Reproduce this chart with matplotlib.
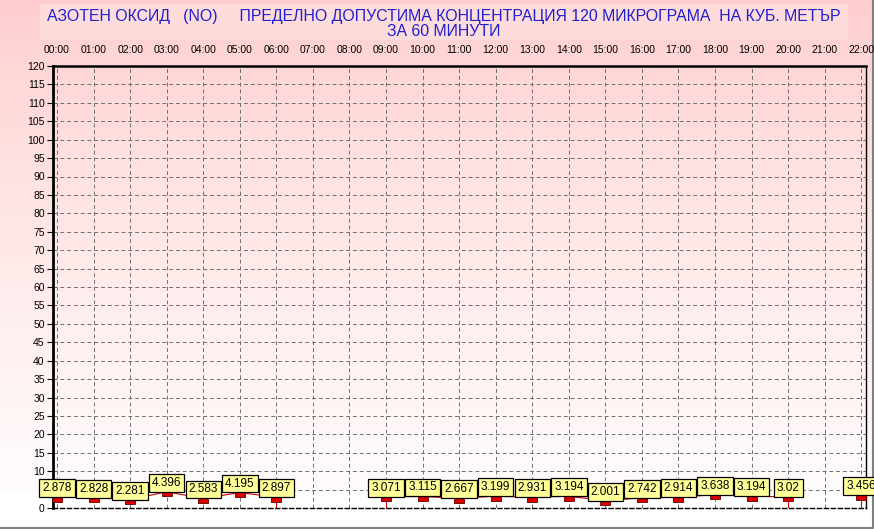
import numpy as np
import matplotlib.pyplot as plt
from matplotlib.patches import Rectangle

# hourly values (NaN where no measurement)
hours = list(range(23))
hour_labels = ['%02d:00' % h for h in hours]
values = [2.878, 2.828, 2.281, 4.396, 2.583, 4.195, 2.897, np.nan, np.nan,
          3.071, 3.115, 2.667, 3.199, 2.931, 3.194, 2.001, 2.742, 2.914,
          3.638, 3.194, 3.02, np.nan, 3.456]
label_texts = ['2.878', '2.828', '2.281', '4.396', '2.583', '4.195', '2.897', '', '',
               '3.071', '3.115', '2.667', '3.199', '2.931', '3.194', '2.001', '2.742', '2.914',
               '3.638', '3.194', '3.02', '', '3.456']
y_ticks = list(range(0, 121, 5))

title_line1 = 'АЗОТЕН ОКСИД   (NO)     ПРЕДЕЛНО ДОПУСТИМА КОНЦЕНТРАЦИЯ 120 МИКРОГРАМА  НА КУБ. МЕТЪР'
title_line2 = 'ЗА 60 МИНУТИ'

plt.rcParams['font.family'] = ['Liberation Sans', 'DejaVu Sans']

W, H = 874, 529
fig = plt.figure(figsize=(W / 100, H / 100), dpi=100)

# background gradient, pink at the top fading to white
bg = fig.add_axes([0, 0, 1, 1], zorder=-10)
grad = np.linspace(0, 1, 256)[:, None] ** 0.8
top_col = np.array([255, 205, 205]) / 255
bot_col = np.array([255, 255, 255]) / 255
img = top_col[None, None, :] * (1 - grad[:, :, None]) + bot_col[None, None, :] * grad[:, :, None]
img[int(256 * 0.93):] = 1.0
bg.imshow(img, aspect='auto', extent=[0, 1, 0, 1])
bg.set_xlim(0, 1)
bg.set_ylim(0, 1)
bg.axis('off')
# outer gray frame (right and bottom)
bg.plot([0, 1 - 1.5 / W, 1 - 1.5 / W], [1.5 / H, 1.5 / H, 1], color='#808080', lw=1.5)

# title box
fig.patches.append(Rectangle((40 / W, 1 - 40 / H), 808 / W, 36 / H, transform=fig.transFigure,
                             facecolor='#ffdcdc', edgecolor='none', zorder=-5))
fig.text(444 / W, 1 - 16 / H, title_line1, ha='center', va='center', color='#2020cc', fontsize=11.4)
fig.text(444 / W, 1 - 31 / H, title_line2, ha='center', va='center', color='#2020cc', fontsize=11.4)

ax = fig.add_axes([53 / W, 1 - 508 / H, 813 / W, 442 / H])
ax.patch.set_alpha(0)
ax.set_xlim(-0.11, 22.13)
ax.set_ylim(0, 120)

ax.set_xticks(hours)
ax.set_xticklabels(hour_labels)
ax.xaxis.tick_top()
ax.set_yticks(y_ticks)
ax.tick_params(axis='x', labelsize=7.5, length=0, pad=8)
ax.tick_params(axis='y', labelsize=7.5, length=4, pad=2)
ax.grid(True, color='#707070', linestyle=(0, (4, 3)), linewidth=0.7)

ax.spines['left'].set_linewidth(2)
ax.spines['right'].set_linewidth(1)
ax.spines['top'].set_linewidth(1.8)
ax.spines['top'].set_linestyle((0, (3, 1)))
ax.spines['bottom'].set_linewidth(1)
ax.spines['bottom'].set_linestyle((0, (3, 2)))

x = np.array(hours, dtype=float)
y = np.array(values, dtype=float)

# connecting line, dropping to zero at the gaps
ax.plot(x, y, color='#cc0000', lw=0.8, zorder=3)
for i in range(len(y)):
    if np.isnan(y[i]):
        continue
    prev_gap = i > 0 and np.isnan(y[i - 1])
    next_gap = i == len(y) - 1 or np.isnan(y[i + 1])
    if prev_gap or next_gap:
        ax.vlines(x[i], 0, y[i], color='#cc0000', lw=0.8, zorder=3)

rect_marker = [(-1, -0.55), (1, -0.55), (1, 0.55), (-1, 0.55), (-1, -0.55)]
ax.plot(x, y - 0.4, linestyle='none', marker=rect_marker, markersize=7, markerfacecolor='#dd0000',
        markeredgecolor='#660000', markeredgewidth=0.6, zorder=4)

for xi, yi, t in zip(x, y, label_texts):
    if np.isnan(yi):
        continue
    ax.annotate(t, (xi, yi), xytext=(0, 6.5), textcoords='offset points', ha='center', va='center',
                fontsize=8.5, zorder=5,
                bbox=dict(boxstyle='square,pad=0.25', facecolor='#ffff99', edgecolor='black', lw=0.9))

fig.savefig('out.png', dpi=100)
